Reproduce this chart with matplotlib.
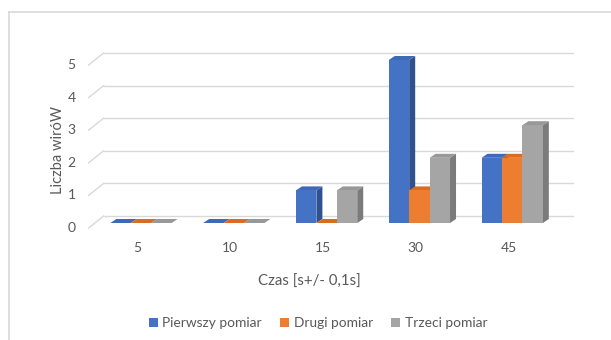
import numpy as np
import matplotlib
matplotlib.use("Agg")
import matplotlib.pyplot as plt
from matplotlib.patches import Polygon, Rectangle
from matplotlib.lines import Line2D

plt.rcParams['font.family'] = ['Lato', 'DejaVu Sans']

kategorie = ['5', '10', '15', '30', '45']
serie = ['Pierwszy pomiar', 'Drugi pomiar', 'Trzeci pomiar']
pierwszy = [0, 0, 1, 5, 2]
drugi = [0, 0, 0, 1, 2]
trzeci = [0, 0, 1, 2, 3]
ticki_y = [0, 1, 2, 3, 4, 5]

kolory = ['#4472C4', '#ED7D31', '#A5A5A5']
boki = ['#2F528F', '#C0590F', '#7B7B7B']
gory = ['#3F69B8', '#D96C22', '#989898']
tekst = '#595959'
siatka = '#D9D9D9'

W, H = 611, 340
fig = plt.figure(figsize=(W / 100, H / 100), dpi=100)
ax = fig.add_axes([94.6 / W, 1 - 223 / H, 464 / W, 163 / H])
ax.set_xlim(-0.5, 4.5)
ax.set_ylim(0, 5)
ax.axis('off')

# piksele -> jednostki danych
px_x = (4.5 + 0.5) / 464
px_y = 5 / 163

def off(x, y, dx, dy):
    return (x + dx * px_x, y + dy * px_y)

# tylna sciana z siatka i ukosne kreski z lewej
for v in ticki_y:
    przod = off(-0.5, v, -6, -5)
    tyl = off(-0.5, v, 9, 7)
    koniec = off(4.5, v, 14, 7)
    ax.add_line(Line2D([przod[0], tyl[0]], [przod[1], tyl[1]], color=siatka,
                       lw=1, clip_on=False, zorder=1))
    ax.add_line(Line2D([tyl[0], koniec[0]], [tyl[1], koniec[1]], color=siatka,
                       lw=1, clip_on=False, zorder=1))
    ax.text(przod[0] - 13 * px_x, przod[1], str(v), ha='right', va='center',
            color=tekst, fontsize=10)

# slupki 3D: front, bok, gora
szer = 0.22
dx, dy = 6, 4
wartosci = [pierwszy, drugi, trzeci]
z = 2
for i in range(len(kategorie)):
    for s in range(3):
        v = wartosci[s][i]
        x0 = i - 1.5 * szer + s * szer
        x1 = x0 + szer
        bok = Polygon([(x1, 0), off(x1, 0, dx, dy), off(x1, v, dx, dy), (x1, v)],
                      closed=True, facecolor=boki[s], edgecolor='none',
                      clip_on=False, zorder=z)
        gora = Polygon([(x0, v), (x1, v), off(x1, v, dx, dy), off(x0, v, dx, dy)],
                       closed=True, facecolor=gory[s], edgecolor='none',
                       clip_on=False, zorder=z)
        ax.add_patch(bok)
        ax.add_patch(gora)
        if v > 0:
            ax.add_patch(Rectangle((x0, 0), szer, v, facecolor=kolory[s],
                                   edgecolor='none', clip_on=False, zorder=z + 0.5))
        z += 1

# etykiety kategorii
for i, k in enumerate(kategorie):
    ax.text(i - 0.04, -25 * px_y, k, ha='center', va='center', color=tekst,
            fontsize=10)

fig.text(309 / W, 1 - 282 / H, 'Czas [s+/- 0,1s]', ha='center', va='center',
         color=tekst, fontsize=10.8)
fig.text(58 / W, 1 - 150 / H, 'Liczba wiróW', ha='center', va='center',
         rotation=90, color=tekst, fontsize=10.5)

uchwyty = [Rectangle((0, 0), 1, 1, facecolor=c, edgecolor='none') for c in kolory]
fig.legend(uchwyty, serie, loc='center', bbox_to_anchor=(318 / W, 1 - 323 / H),
           ncol=3, frameon=False, fontsize=9.9, labelcolor=tekst,
           handlelength=0.65, handleheight=0.65, handletextpad=0.35,
           columnspacing=1.3)

# ramka obszaru wykresu
fig.add_artist(Line2D([9 / W, 1], [1 - 12 / H, 1 - 12 / H], color='#D9D9D9',
                      lw=1.2, transform=fig.transFigure))
fig.add_artist(Line2D([9 / W, 9 / W], [0, 1 - 12 / H], color='#D9D9D9',
                      lw=1.2, transform=fig.transFigure))

fig.savefig('out.png', dpi=100)
